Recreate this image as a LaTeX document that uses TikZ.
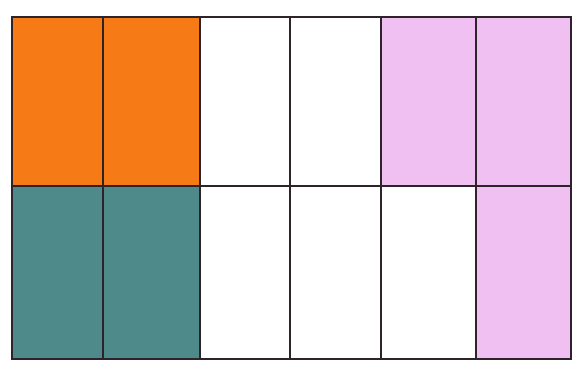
\documentclass[tikz,border=0pt]{standalone}
\usepackage{xcolor}
\usepackage{tikz}
\usetikzlibrary{positioning,calc}
\definecolor{cellorange}{RGB}{246, 122, 22}
\definecolor{cellteal}{RGB}{78, 138, 138}
\definecolor{cellpink}{RGB}{241, 192, 243}
\definecolor{gridline}{RGB}{45, 35, 40}

\begin{document}
\begin{tikzpicture}[x=1pt, y=-1pt, gridrule/.style={draw=gridline, line width=2pt}]
        \useasboundingbox (0, 0) rectangle (581, 368);
        
        % Coloured cells, top row
        \fill[cellorange] (12, 17) rectangle (200, 186);
        \fill[cellpink] (381, 17) rectangle (571, 186);
        
        % Coloured cells, bottom row
        \fill[cellteal] (12, 186) rectangle (200, 359);
        \fill[cellpink] (476, 186) rectangle (571, 359);
        
        % Grid
        \draw[gridrule] (12, 17) rectangle (571, 359);
        \draw[gridrule] (12, 186) -- (571, 186);
        \foreach \xpos in {103, 200, 290, 381, 476}
            \draw[gridrule] (\xpos, 17) -- (\xpos, 359);
    \end{tikzpicture}
\end{document}
